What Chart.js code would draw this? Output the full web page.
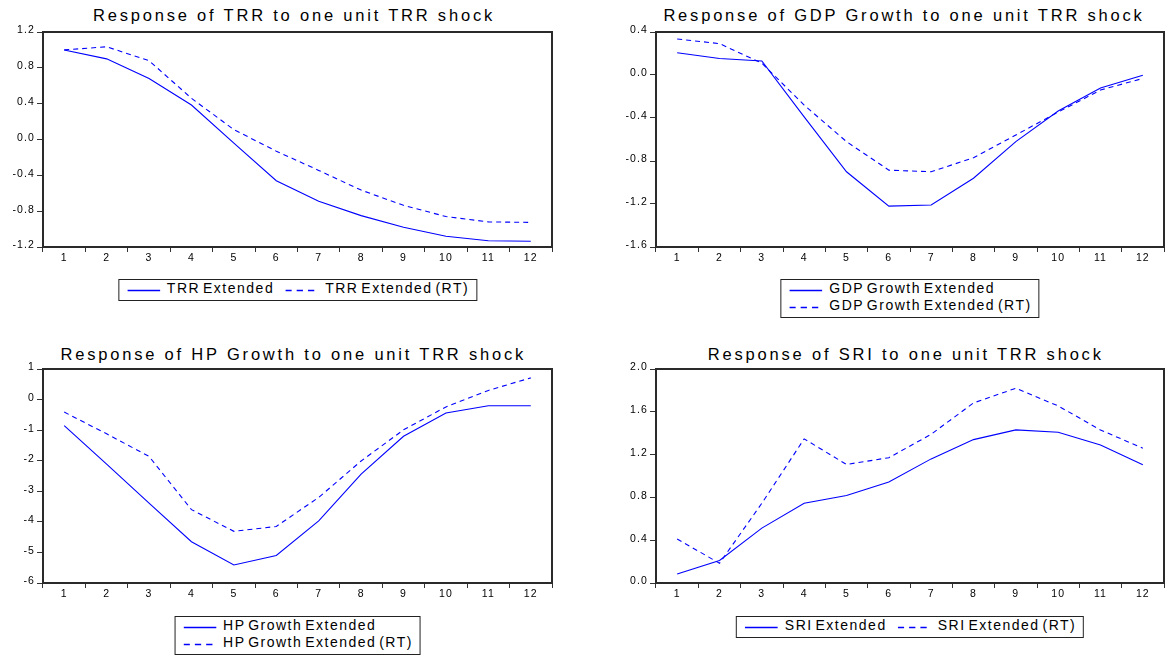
<!DOCTYPE html>
<html>
<head>
<meta charset="utf-8">
<title>Impulse responses to one unit TRR shock</title>
<script src="https://cdn.jsdelivr.net/npm/chart.js@4.4.1/dist/chart.umd.min.js"></script>
<style>
  html, body { margin: 0; padding: 0; background: #fff; overflow: hidden; }
  body { position: relative; width: 1165px; height: 656px; font-family: "Liberation Sans", Arial, sans-serif; color: #000; }
  canvas { position: absolute; }
  .title {
    position: absolute; transform: translateX(-50%);
    font-size: 16.5px; line-height: 18px; letter-spacing: 2.8px; white-space: nowrap;
  }
  .legend {
    position: absolute; transform: translateX(-50%);
    display: flex; flex-direction: row;
    border: 1px solid #222; background: #fff;
    padding: 0 7px 3px 8px;
    font-size: 14px; line-height: 17px; letter-spacing: 1.5px; word-spacing: -2.5px; white-space: nowrap;
  }
  .legend.stacked { flex-direction: column; }
  .legend .item { display: flex; align-items: flex-start; }
  .legend:not(.stacked) .item + .item { margin-left: 11px; }
  .legend svg { display: block; margin-right: 7px; flex: none; }
</style>
</head>
<body>
<script>
// horizon (periods after the shock)
const periods = ['1', '2', '3', '4', '5', '6', '7', '8', '9', '10', '11', '12'];

// TRR response
const trrExtended   = [1.00, 0.90, 0.68, 0.385, -0.04, -0.46, -0.69, -0.85, -0.98, -1.08, -1.13, -1.135];
const trrExtendedRT = [1.00, 1.035, 0.88, 0.46, 0.11, -0.13, -0.345, -0.565, -0.735, -0.86, -0.92, -0.925];

// GDP growth response
const gdpExtended   = [0.207, 0.153, 0.13, -0.39, -0.90, -1.22, -1.21, -0.96, -0.62, -0.335, -0.12, -0.003];
const gdpExtendedRT = [0.335, 0.292, 0.11, -0.28, -0.62, -0.885, -0.90, -0.77, -0.558, -0.345, -0.14, -0.032];

// HP growth response
const hpExtended   = [-0.85, -2.11, -3.39, -4.65, -5.41, -5.10, -3.97, -2.44, -1.20, -0.44, -0.20, -0.20];
const hpExtendedRT = [-0.41, -1.12, -1.86, -3.60, -4.31, -4.15, -3.20, -2.01, -0.99, -0.24, 0.30, 0.71];

// SRI response
const sriExtended   = [0.084, 0.21, 0.513, 0.745, 0.817, 0.944, 1.16, 1.34, 1.431, 1.409, 1.29, 1.104];
const sriExtendedRT = [0.412, 0.184, 0.745, 1.347, 1.108, 1.171, 1.39, 1.683, 1.82, 1.655, 1.43, 1.26];

// y axis ranges
const trrTicks = { min: -1.2, max: 1.2, step: 0.4, digits: 1 };
const gdpTicks = { min: -1.6, max: 0.4, step: 0.4, digits: 1 };
const hpTicks  = { min: -6, max: 1, step: 1, digits: 0 };
const sriTicks = { min: 0, max: 2.0, step: 0.4, digits: 1 };

const LINE_BLUE = '#0000ff';
const AXIS_W = 43;   // room for y tick labels
const AXIS_H = 25;   // room for x tick labels
const PAD_TOP = 10;
const PAD_RIGHT = 1;

const panels = [
  {
    title: 'Response of TRR to one unit TRR shock',
    names: ['TRR Extended', 'TRR Extended (RT)'],
    series: [trrExtended, trrExtendedRT], yTicks: trrTicks,
    area: { left: 43, top: 32, right: 552, bottom: 247 },
    titleTop: 6, titleShift: -3.5, legendTop: 279, stacked: false
  },
  {
    title: 'Response of GDP Growth to one unit TRR shock',
    names: ['GDP Growth Extended', 'GDP Growth Extended (RT)'],
    series: [gdpExtended, gdpExtendedRT], yTicks: gdpTicks,
    area: { left: 656, top: 32, right: 1164, bottom: 247 },
    titleTop: 6, titleShift: -6, legendTop: 279, stacked: true
  },
  {
    title: 'Response of HP Growth to one unit TRR shock',
    names: ['HP Growth Extended', 'HP Growth Extended (RT)'],
    series: [hpExtended, hpExtendedRT], yTicks: hpTicks,
    area: { left: 43, top: 369, right: 552, bottom: 583 },
    titleTop: 344.6, titleShift: -4.2, legendTop: 616, stacked: true
  },
  {
    title: 'Response of SRI to one unit TRR shock',
    names: ['SRI Extended', 'SRI Extended (RT)'],
    series: [sriExtended, sriExtendedRT], yTicks: sriTicks,
    area: { left: 656, top: 369, right: 1164, bottom: 583 },
    titleTop: 344.6, titleShift: -4.2, legendTop: 616, stacked: false
  }
];

// box around the plotting area
const plotFrame = {
  id: 'plotFrame',
  afterDraw(chart) {
    const { ctx, chartArea: a } = chart;
    ctx.save();
    ctx.strokeStyle = '#2a2a2a';
    ctx.lineWidth = 2;
    ctx.strokeRect(a.left, a.top, a.right - a.left, a.bottom - a.top);
    ctx.restore();
  }
};

// wider tracking for the tick numbers
const tickTracking = {
  id: 'tickTracking',
  beforeDraw(chart) {
    chart.ctx.letterSpacing = '1.1px';
  }
};

const tickFont = { family: '"Liberation Sans", Arial, sans-serif', size: 10.5 };

function formatTick(value, digits) {
  const v = Math.abs(value) < 1e-9 ? 0 : value;
  return v.toFixed(digits);
}

function buildLegend(chart, panel) {
  const svgNS = 'http://www.w3.org/2000/svg';
  const box = document.createElement('div');
  box.className = 'legend' + (panel.stacked ? ' stacked' : '');
  box.style.left = ((panel.area.left + panel.area.right) / 2) + 'px';
  box.style.top = panel.legendTop + 'px';

  chart.data.datasets.forEach(ds => {
    const item = document.createElement('div');
    item.className = 'item';

    const svg = document.createElementNS(svgNS, 'svg');
    svg.setAttribute('width', '33');
    svg.setAttribute('height', '17');
    const line = document.createElementNS(svgNS, 'line');
    line.setAttribute('x1', '0');
    line.setAttribute('x2', ds.borderDash ? '29.5' : '33');
    line.setAttribute('y1', '10.5');
    line.setAttribute('y2', '10.5');
    line.setAttribute('stroke', ds.borderColor);
    line.setAttribute('stroke-width', '1.3');
    if (ds.borderDash) line.setAttribute('stroke-dasharray', '6.3 5');
    svg.appendChild(line);

    const text = document.createElement('span');
    text.textContent = ds.label;

    item.appendChild(svg);
    item.appendChild(text);
    box.appendChild(item);
  });

  document.body.appendChild(box);
}

panels.forEach(panel => {
  const a = panel.area;

  const title = document.createElement('div');
  title.className = 'title';
  title.textContent = panel.title;
  title.style.left = ((a.left + a.right) / 2 + panel.titleShift) + 'px';
  title.style.top = panel.titleTop + 'px';
  document.body.appendChild(title);

  const canvas = document.createElement('canvas');
  const left = a.left - AXIS_W;
  const top = a.top - PAD_TOP;
  canvas.width = a.right + PAD_RIGHT - left;
  canvas.height = a.bottom + AXIS_H - top;
  canvas.style.left = left + 'px';
  canvas.style.top = top + 'px';
  document.body.appendChild(canvas);

  const yt = panel.yTicks;

  const chart = new Chart(canvas, {
    type: 'line',
    data: {
      labels: periods,
      datasets: [
        {
          label: panel.names[0],
          data: panel.series[0],
          borderColor: LINE_BLUE,
          borderWidth: 1.1,
          pointRadius: 0,
          tension: 0,
          fill: false
        },
        {
          label: panel.names[1],
          data: panel.series[1],
          borderColor: LINE_BLUE,
          borderWidth: 1.1,
          borderDash: [5, 4],
          pointRadius: 0,
          tension: 0,
          fill: false
        }
      ]
    },
    options: {
      responsive: false,
      animation: false,
      events: [],
      layout: { padding: { top: PAD_TOP, right: PAD_RIGHT, left: 0, bottom: 0 } },
      plugins: {
        legend: { display: false },
        title: { display: false },
        tooltip: { enabled: false }
      },
      scales: {
        x: {
          type: 'category',
          offset: true,
          border: { display: false },
          grid: {
            offset: true,
            drawOnChartArea: false,
            drawTicks: true,
            tickLength: 5,
            color: '#333',
            lineWidth: 1
          },
          ticks: {
            color: '#000',
            font: tickFont,
            padding: 0,
            maxRotation: 0,
            autoSkip: false
          },
          afterFit(scale) { scale.height = AXIS_H; }
        },
        y: {
          type: 'linear',
          min: yt.min,
          max: yt.max,
          border: { display: false },
          grid: {
            drawOnChartArea: false,
            drawTicks: true,
            tickLength: 6,
            color: '#333',
            lineWidth: 1
          },
          ticks: {
            stepSize: yt.step,
            color: '#000',
            font: tickFont,
            padding: 2,
            labelOffset: -1.5,
            callback: value => formatTick(value, yt.digits)
          },
          afterFit(scale) { scale.width = AXIS_W; }
        }
      }
    },
    plugins: [tickTracking, plotFrame]
  });

  buildLegend(chart, panel);
});
</script>
</body>
</html>
